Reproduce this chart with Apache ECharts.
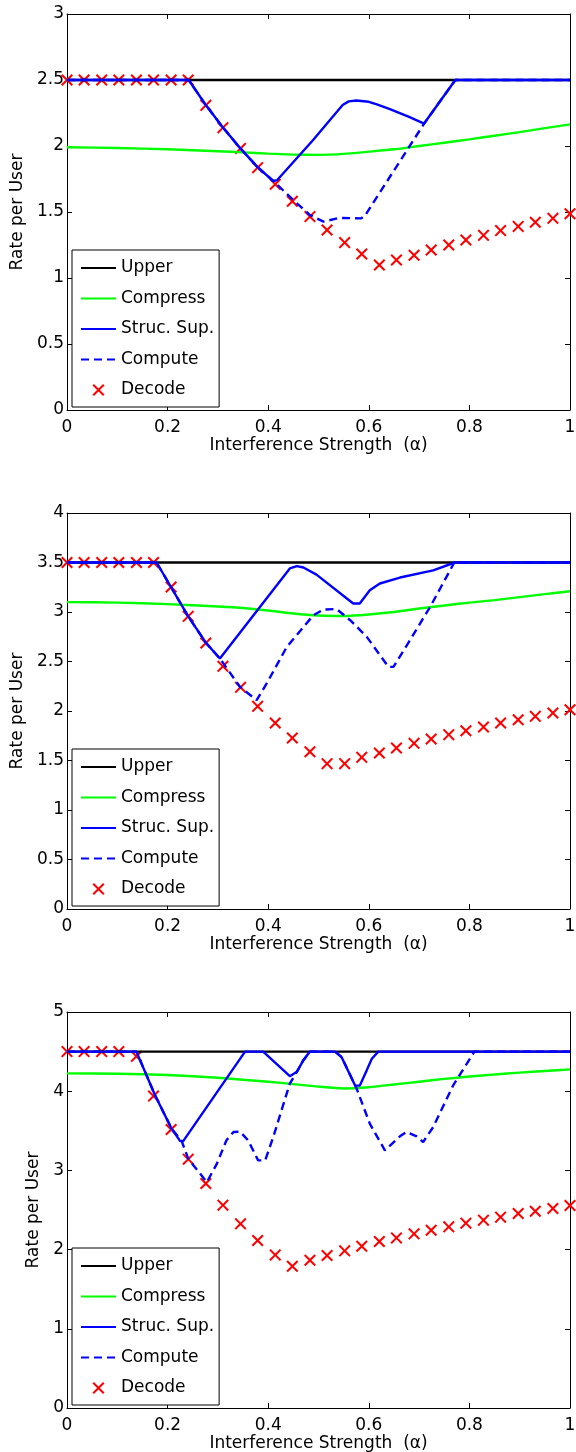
<!DOCTYPE html>
<html>
<head>
<meta charset="utf-8">
<script src="https://cdn.jsdelivr.net/npm/echarts@6/dist/echarts.min.js"></script>
<style>
  html, body { margin: 0; padding: 0; background: #fff; }
  #chart { width: 576px; height: 1452px; }
</style>
</head>
<body>
<div id="chart"></div>
<script>
// interference strength where the decode markers sit
const alpha = [0, 0.034, 0.069, 0.103, 0.138, 0.172, 0.207, 0.241, 0.276, 0.310,
  0.345, 0.379, 0.414, 0.448, 0.483, 0.517, 0.552, 0.586, 0.621, 0.655,
  0.690, 0.724, 0.759, 0.793, 0.828, 0.862, 0.897, 0.931, 0.966, 1];

const decode1 = [2.5, 2.5, 2.5, 2.5, 2.5, 2.5, 2.5, 2.5, 2.308, 2.139, 1.982, 1.836, 1.71, 1.581, 1.465,
  1.364, 1.268, 1.182, 1.098, 1.136, 1.172, 1.212, 1.25, 1.288, 1.323, 1.359, 1.391, 1.422, 1.452, 1.487];
const decode2 = [3.5, 3.5, 3.5, 3.5, 3.5, 3.5, 3.253, 2.956, 2.687, 2.451, 2.239, 2.047, 1.879, 1.727, 1.589,
  1.468, 1.468, 1.532, 1.576, 1.626, 1.673, 1.717, 1.761, 1.801, 1.838, 1.879, 1.912, 1.946, 1.98, 2.013];
const decode3 = [4.5, 4.5, 4.5, 4.5, 4.44, 3.938, 3.517, 3.142, 2.835, 2.561, 2.325, 2.115, 1.933, 1.79, 1.866,
  1.925, 1.984, 2.043, 2.102, 2.148, 2.199, 2.245, 2.287, 2.334, 2.372, 2.41, 2.456, 2.485, 2.519, 2.557];

// upper bound
const upperX = [0, 1];
const upper = [2.5, 3.5, 4.5];

// compress
const compX = [0, 0.1, 0.2, 0.3, 0.35, 0.4, 0.45, 0.5, 0.55, 0.6, 0.65, 0.7, 0.75, 0.8, 0.85, 0.9, 0.95, 1];
const compress1 = [1.99, 1.985, 1.975, 1.96, 1.952, 1.942, 1.935, 1.933, 1.94, 1.957, 1.975, 2.0, 2.025, 2.05, 2.078, 2.105, 2.135, 2.164];
const compress2 = [3.10, 3.095, 3.08, 3.055, 3.04, 3.015, 2.985, 2.965, 2.96, 2.975, 3.0, 3.035, 3.065, 3.095, 3.12, 3.15, 3.18, 3.21];
const compress3 = [4.225, 4.22, 4.205, 4.17, 4.145, 4.12, 4.09, 4.058, 4.035, 4.05, 4.085, 4.12, 4.155, 4.185, 4.21, 4.235, 4.255, 4.275];

// structured superposition
const supX1 = [0, 0.242, 0.276, 0.31, 0.345, 0.379, 0.41, 0.418, 0.488, 0.548, 0.56, 0.575, 0.6, 0.616, 0.642, 0.68, 0.71, 0.772, 1];
const supY1 = [2.5, 2.5, 2.31, 2.14, 1.98, 1.84, 1.735, 1.742, 2.04, 2.31, 2.338, 2.345, 2.335, 2.315, 2.28, 2.22, 2.17, 2.5, 2.5];
const supX2 = [0, 0.178, 0.207, 0.241, 0.276, 0.304, 0.443, 0.457, 0.47, 0.496, 0.569, 0.582, 0.602, 0.622, 0.662, 0.728, 0.771, 1];
const supY2 = [3.5, 3.5, 3.25, 2.955, 2.69, 2.53, 3.44, 3.463, 3.45, 3.378, 3.086, 3.086, 3.22, 3.288, 3.348, 3.42, 3.5, 3.5];
const supX3 = [0, 0.138, 0.175, 0.208, 0.225, 0.231, 0.354, 0.39, 0.443, 0.457, 0.47, 0.483, 0.533, 0.546, 0.573, 0.582, 0.596, 0.606, 0.619, 1];
const supY3 = [4.5, 4.5, 3.95, 3.527, 3.37, 3.37, 4.5, 4.5, 4.19, 4.245, 4.392, 4.5, 4.5, 4.43, 4.07, 4.07, 4.266, 4.41, 4.5, 4.5];

// compute-and-forward
const cmpX1 = [0, 0.242, 0.276, 0.31, 0.345, 0.379, 0.41, 0.45, 0.483, 0.51, 0.54, 0.585, 0.592, 0.71, 0.772, 1];
const cmpY1 = [2.5, 2.5, 2.31, 2.14, 1.98, 1.84, 1.735, 1.59, 1.477, 1.427, 1.455, 1.452, 1.47, 2.17, 2.5, 2.5];
const cmpX2 = [0, 0.178, 0.207, 0.241, 0.276, 0.304, 0.344, 0.377, 0.397, 0.437, 0.49, 0.51, 0.536, 0.563, 0.596, 0.639, 0.649, 0.682, 0.722, 0.77, 1];
const cmpY2 = [3.5, 3.5, 3.25, 2.955, 2.69, 2.53, 2.243, 2.11, 2.278, 2.648, 2.968, 3.025, 3.03, 2.917, 2.749, 2.446, 2.446, 2.716, 3.052, 3.5, 3.5];
const cmpX3 = [0, 0.138, 0.175, 0.208, 0.228, 0.241, 0.278, 0.298, 0.317, 0.331, 0.344, 0.36, 0.38, 0.394, 0.41, 0.443, 0.457,
  0.47, 0.483, 0.533, 0.546, 0.573, 0.576, 0.602, 0.632, 0.662, 0.675, 0.695, 0.708, 0.728, 0.768, 0.81, 1];
const cmpY3 = [4.5, 4.5, 3.95, 3.527, 3.37, 3.148, 2.852, 3.085, 3.38, 3.485, 3.49, 3.38, 3.127, 3.127, 3.42, 4.097, 4.245,
  4.392, 4.5, 4.5, 4.43, 4.07, 4.03, 3.59, 3.253, 3.43, 3.485, 3.43, 3.358, 3.548, 4.076, 4.5, 4.5];

const yMax = [3, 4, 5];
const yStep = [0.5, 0.5, 1];
const names = ['Upper', 'Compress', 'Struc. Sup.', 'Compute', 'Decode'];

const FONT = 'DejaVu Sans';
const LW = 2.4;
const gridTops = [14, 513, 1012];
const yNameGap = [32, 32, 17];
const crossPath = 'path://M0,1.2L1.2,0L5,3.8L8.8,0L10,1.2L6.2,5L10,8.8L8.8,10L5,6.2L1.2,10L0,8.8L3.8,5Z';

const pair = (xs, ys) => xs.map((x, i) => [x, ys[i]]);

const plots = [
  { upper: upper[0], comp: compress1, supX: supX1, supY: supY1, cmpX: cmpX1, cmpY: cmpY1, dec: decode1 },
  { upper: upper[1], comp: compress2, supX: supX2, supY: supY2, cmpX: cmpX2, cmpY: cmpY2, dec: decode2 },
  { upper: upper[2], comp: compress3, supX: supX3, supY: supY3, cmpX: cmpX3, cmpY: cmpY3, dec: decode3 }
];

// legend entries: lines get no dot in the icon
const legendData = names.map(n => n === 'Decode' ? { name: n } : { name: n, itemStyle: { opacity: 0 } });

const grid = [], xAxis = [], yAxis = [], series = [], legend = [];
const txt = { fontFamily: FONT, fontSize: 17, color: '#000' };
const axLine = { show: true, onZero: false, lineStyle: { color: '#000', width: 1 } };
const tick = { show: true, inside: true, length: 5, lineStyle: { color: '#000' } };

plots.forEach((p, i) => {
  grid.push({ left: 67, top: gridTops[i], width: 503, height: 396, outerBoundsMode: 'none' });
  xAxis.push({
    type: 'value', gridIndex: i, min: 0, max: 1, interval: 0.2, position: 'bottom',
    axisLine: axLine, axisTick: tick, splitLine: { show: false },
    axisLabel: Object.assign({ margin: 9, formatter: v => String(+v.toFixed(1)) }, txt),
    name: 'Interference Strength  (\u03b1)', nameLocation: 'middle', nameGap: 24,
    nameTextStyle: txt
  });
  xAxis.push({
    type: 'value', gridIndex: i, min: 0, max: 1, interval: 0.2, position: 'top',
    axisLine: axLine, axisTick: tick, splitLine: { show: false }, axisLabel: { show: false }
  });
  yAxis.push({
    type: 'value', gridIndex: i, min: 0, max: yMax[i], interval: yStep[i], position: 'left',
    axisLine: axLine, axisTick: tick, splitLine: { show: false },
    axisLabel: Object.assign({ margin: 3, formatter: v => String(+v.toFixed(1)) }, txt),
    name: 'Rate per User', nameLocation: 'middle', nameRotate: 90, nameGap: yNameGap[i],
    nameTextStyle: txt
  });
  yAxis.push({
    type: 'value', gridIndex: i, min: 0, max: yMax[i], interval: yStep[i], position: 'right',
    axisLine: axLine, axisTick: tick, splitLine: { show: false }, axisLabel: { show: false }
  });

  const ax = { xAxisIndex: 2 * i, yAxisIndex: 2 * i };
  series.push(Object.assign({
    name: 'Upper', type: 'line', symbol: 'none', animation: false,
    data: pair(upperX, [p.upper, p.upper]),
    lineStyle: { color: '#000', width: LW }, itemStyle: { color: '#000' }
  }, ax));
  series.push(Object.assign({
    name: 'Compress', type: 'line', symbol: 'none', animation: false,
    data: pair(compX, p.comp), smooth: 0.2,
    lineStyle: { color: '#00ff00', width: LW }, itemStyle: { color: '#00ff00' }
  }, ax));
  series.push(Object.assign({
    name: 'Struc. Sup.', type: 'line', symbol: 'none', animation: false,
    data: pair(p.supX, p.supY),
    lineStyle: { color: '#0000ff', width: LW }, itemStyle: { color: '#0000ff' }
  }, ax));
  series.push(Object.assign({
    name: 'Compute', type: 'line', symbol: 'none', animation: false,
    data: pair(p.cmpX, p.cmpY),
    lineStyle: { color: '#0000ff', width: LW, type: [8, 5] }, itemStyle: { color: '#0000ff' }
  }, ax));
  series.push(Object.assign({
    name: 'Decode', type: 'scatter', symbol: crossPath, symbolSize: 12, animation: false,
    data: pair(alpha, p.dec),
    itemStyle: { color: '#ff0000', opacity: 1 }
  }, ax));

  legend.push({
    orient: 'vertical', left: 72, top: gridTops[i] + 236,
    data: legendData, selectedMode: false,
    itemWidth: 35, itemHeight: 12, itemGap: 13.5,
    padding: [9.5, 5, 8.5, 8],
    borderColor: '#000', borderWidth: 1, backgroundColor: '#fff',
    textStyle: Object.assign({ lineHeight: 17 }, txt)
  });
});

const chart = echarts.init(document.getElementById('chart'), null, { renderer: 'canvas' });
chart.setOption({
  backgroundColor: '#fff',
  animation: false,
  grid, xAxis, yAxis, series, legend
});
</script>
</body>
</html>
